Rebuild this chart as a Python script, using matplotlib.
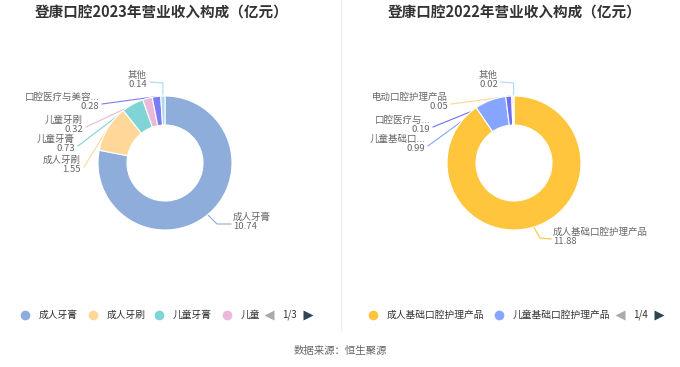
import numpy as np
import matplotlib
matplotlib.use("Agg")
import matplotlib.pyplot as plt

plt.rcParams['font.family'] = ['Noto Sans CJK SC', 'DejaVu Sans']

# data
titles = ['登康口腔2023年营业收入构成（亿元）', '登康口腔2022年营业收入构成（亿元）']

names_2023 = ['成人牙膏', '成人牙刷', '儿童牙膏', '儿童牙刷', '口腔医疗与美容...', '其他']
values_2023 = [10.74, 1.55, 0.73, 0.32, 0.28, 0.14]
legend_2023 = ['成人牙膏', '成人牙刷', '儿童牙膏', '儿童']
pager_2023 = '1/3'

names_2022 = ['成人基础口腔护理产品', '儿童基础口...', '口腔医疗与...', '电动口腔护理产品', '其他']
values_2022 = [11.88, 0.99, 0.19, 0.05, 0.02]
legend_2022 = ['成人基础口腔护理产品', '儿童基础口腔护理产品']
pager_2022 = '1/4'

source = '数据来源：恒生聚源'

# styles
colors_2023 = ['#8eaddb', '#ffd899', '#7fd4d6', '#eab9da', '#7b7cf5', '#a9d9f3']
colors_2022 = ['#ffc53d', '#85a5ff', '#6f6ff0', '#ffd591', '#a9d9f3']

W, H = 680, 367
R, RIN = 67, 38


def Y(y):
    return H - y


fig = plt.figure(figsize=(6.8, 3.67), dpi=100)
ax = fig.add_axes([0, 0, 1, 1])


def donut(cx, cy, values, names, colors, labels):
    wedges, _ = ax.pie(values, colors=colors, center=(cx, Y(cy)), radius=R,
                       startangle=90, counterclock=False,
                       wedgeprops=dict(width=R - RIN, edgecolor='white', linewidth=0.8))
    for w in wedges:
        w.set_zorder(3)
    for w, name, val, col, lab in zip(wedges, names, values, colors, labels):
        tx, ty, ha, elbow = lab
        mid = np.deg2rad((w.theta1 + w.theta2) / 2)
        sx, sy = cx + R * np.cos(mid), Y(cy) + R * np.sin(mid)
        ax.text(tx, Y(ty), f'{name}\n{val:.2f}', ha=ha, va='center',
                fontsize=6.8, color='#666666', linespacing=1.05, zorder=4)
        start = tx - 2 if ha == 'left' else tx + 3
        xs = [start]
        ys = [Y(ty + 2)]
        if elbow is not None:
            xs.append(elbow[0])
            ys.append(Y(elbow[1]))
        xs.append(sx)
        ys.append(sy)
        # leader lines sit under the wedges
        ax.plot(xs, ys, color=col, lw=0.8, zorder=2)


# label layout: text x, block centre y, alignment, elbow point
labels_2023 = [
    (233, 222, 'left', (217, 224)),
    (81, 165, 'right', None),
    (75, 144, 'right', None),
    (83, 125, 'right', None),
    (99, 102, 'right', None),
    (147, 80, 'right', (163, 83)),
]
labels_2022 = [
    (553, 237, 'left', (540, 238)),
    (425, 144, 'right', None),
    (430, 125, 'right', None),
    (448, 102, 'right', None),
    (498, 80, 'right', (513.6, 83)),
]

donut(165, 163, values_2023, names_2023, colors_2023, labels_2023)
donut(514, 163, values_2022, names_2022, colors_2022, labels_2022)

# titles
ax.text(162, Y(13), titles[0], ha='center', va='center', fontsize=10.5,
        fontweight='bold', color='#333333')
ax.text(515, Y(13), titles[1], ha='center', va='center', fontsize=10.5,
        fontweight='bold', color='#333333')

# divider
ax.plot([341, 341], [Y(0), Y(330)], color='#eeeeee', lw=0.8)


def legend(x0, items, cols, gaps, pager, px):
    x = x0
    for item, col, gap in zip(items, cols, gaps):
        ax.plot(x, Y(315), 'o', ms=7, color=col, mec='none')
        ax.text(x + 14, Y(315), item, ha='left', va='center', fontsize=7, color='#333333')
        x += gap
    ax.plot(px, Y(315), marker='<', ms=7, color='#aaaaaa', mec='none')
    ax.text(px + 13, Y(315), pager, ha='left', va='center', fontsize=7, color='#333333')
    ax.plot(px + 39, Y(315), marker='>', ms=7, color='#2f4554', mec='none')


legend(25, legend_2023, colors_2023[:4], [68, 66, 68, 68], pager_2023, 269)
legend(373, legend_2022, colors_2022[:2], [126, 126], pager_2022, 620)

ax.text(340, Y(351), source, ha='center', va='center', fontsize=7.5, color='#666666')

ax.set_xlim(0, W)
ax.set_ylim(0, H)
ax.set_aspect('equal')
ax.axis('off')

fig.savefig('out.png', dpi=100, facecolor='white')
